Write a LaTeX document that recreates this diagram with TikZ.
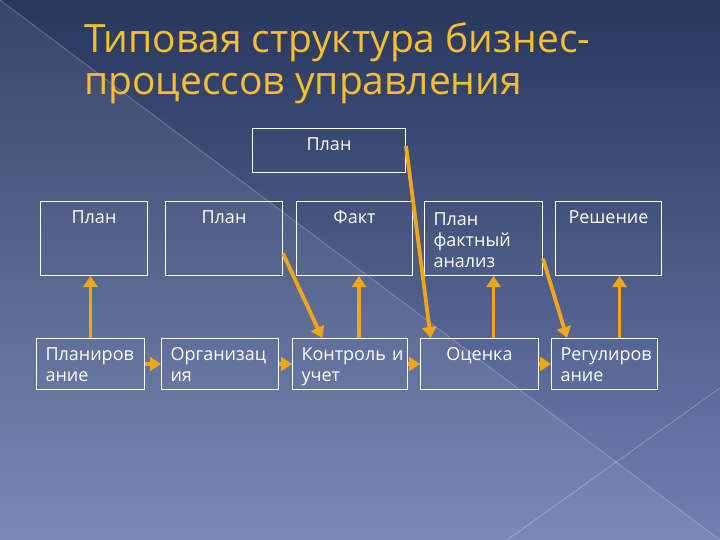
\documentclass[tikz,border=0pt]{standalone}
\usepackage{fontspec}
\setmainfont{Open Sans}
\usepackage{xcolor}
\usetikzlibrary{positioning,calc,arrows.meta}
\definecolor{slidetop}{RGB}{40,55,92}
\definecolor{slidebot}{RGB}{112,128,180}
\definecolor{figorange}{RGB}{240,166,22}
\definecolor{figgold}{RGB}{246,190,48}
\tikzset{
  figfont/.style={font=\fontsize{18}{21}\selectfont, text=white},
  figbox/.style={draw=white, line width=1pt, inner xsep=9pt, inner ysep=0pt},
  figboxhigh/.style={figbox, text height=22pt, text depth=52pt},
  figboxlow/.style={figbox, text height=22pt, text depth=29pt},
  figarrow/.style={-{Triangle[length=11pt,width=14pt]}, line width=3.8pt, draw=figorange},
}

\begin{document}
\begin{tikzpicture}[x=1pt, y=-1pt, figfont]
  \useasboundingbox (0,0) rectangle (720,540);
  % slide background
  \fill[top color=slidetop, bottom color=slidebot] (0,0) rectangle (720,540);
  \fill[white, opacity=0.07] (0,0) -- (720,540) -- (0,540) -- cycle;
  \draw[white, opacity=0.25, line width=0.8pt] (0,0) -- (720,540);
  \draw[white, opacity=0.25, line width=0.8pt] (507,540) -- (720,388);

  % title
  \node[anchor=north west, inner sep=0pt, align=left, text=figgold,
        font=\fontsize{39}{42}\selectfont] (T) at (84,22)
    {Типовая структура бизнес-\\процессов управления};

  % top box
  \node[figbox, anchor=north west, text width=135pt, align=center,
        text height=22pt, text depth=22pt] (P0) at (252,128) {План};

  % row 1
  \node[figboxhigh, anchor=north west, text width=89pt, align=center] (P1) at (40,201) {План};
  \node[figboxhigh, right=17pt of P1.north east, anchor=north west, text width=99pt, align=center] (P2) {План};
  \node[figboxhigh, right=13pt of P2.north east, anchor=north west, text width=98pt, align=center] (F) {Факт};
  \node[figboxhigh, right=11pt of F.north east, anchor=north west, text width=100pt, align=left,
        text height=24pt, text depth=50pt] (PF) {План\\фактный\\анализ};
  \node[figboxhigh, right=12pt of PF.north east, anchor=north west, text width=88pt, align=center] (R) {Решение};

  % row 2
  \node[figboxlow, anchor=north west, text width=90pt, align=left] (PL) at (36,338) {Планиров\\ание};
  \node[figboxlow, right=16pt of PL.north east, anchor=north west, text width=99pt, align=left] (ORG) {Организац\\ия};
  \node[figboxlow, right=13pt of ORG.north east, anchor=north west, text width=97pt, align=left] (KU) {Контроль~и\\учет};
  \node[figboxlow, right=12pt of KU.north east, anchor=north west, text width=100pt, align=center] (OC) {Оценка};
  \node[figboxlow, right=12pt of OC.north east, anchor=north west, text width=88pt, align=left] (REG) {Регулиров\\ание};

  % arrows along row 2
  \foreach \a/\b in {PL/ORG, ORG/KU, KU/OC, OC/REG}
    \draw[figarrow] (\a) -- (\b);

  % upward arrows
  \draw[figarrow] (PL.north) -- (PL.north |- P1.south);
  \draw[figarrow] ([xshift=9pt]KU.north) -- ([xshift=9pt]KU.north |- F.south);
  \draw[figarrow] ([xshift=14pt]OC.north) -- ([xshift=14pt]OC.north |- PF.south);
  \draw[figarrow] ([xshift=15pt]REG.north) -- ([xshift=15pt]REG.north |- R.south);

  % slanted arrows
  \draw[figarrow] ($(P2.south east)!0.3!(P2.north east)$) -- ($(KU.north west)!0.26!(KU.north east)$);
  \draw[figarrow] ($(P0.south east)!0.6!(P0.north east)$) -- ($(OC.north west)!0.09!(OC.north east)$);
  \draw[figarrow] ($(PF.south east)!0.23!(PF.north east)$) -- ($(REG.north west)!0.15!(REG.north east)$);
\end{tikzpicture}
\end{document}
